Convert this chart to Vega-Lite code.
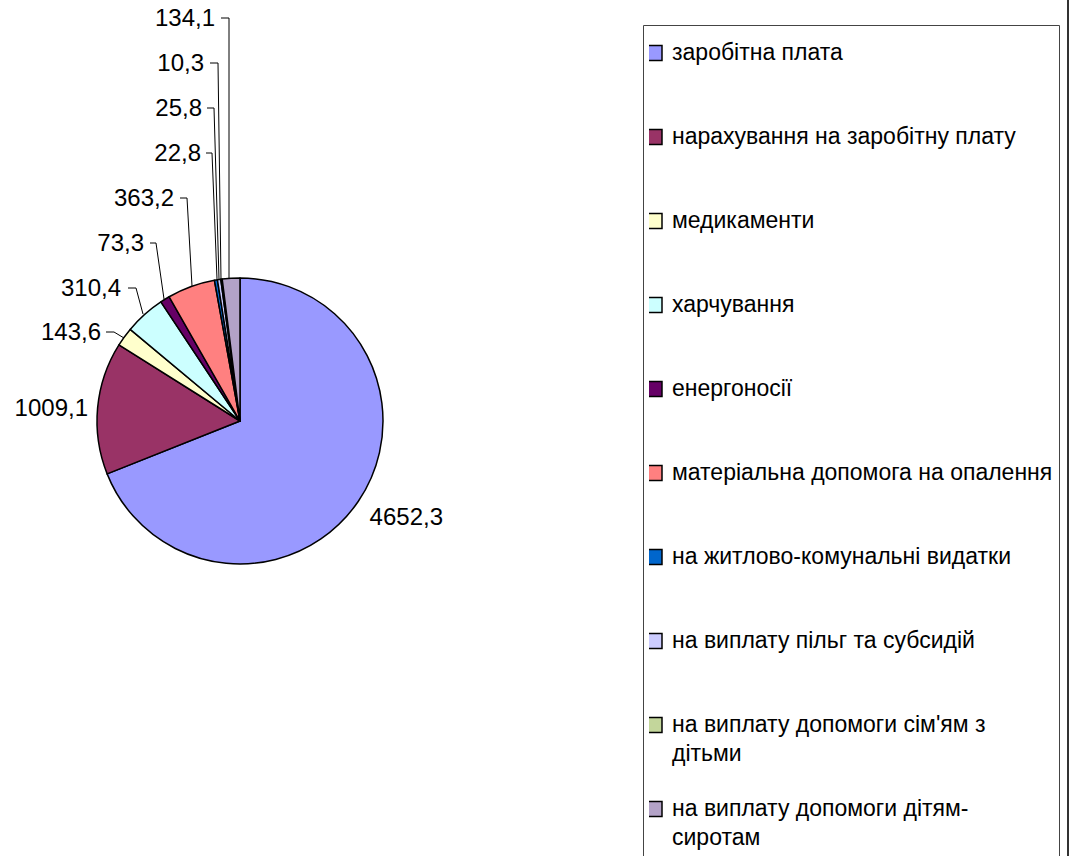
{
  "$schema": "https://vega.github.io/schema/vega-lite/v6.json",
  "width": 1073,
  "height": 856,
  "autosize": {"type": "none"},
  "padding": 0,
  "background": "#ffffff",
  "config": {
    "view": {"stroke": null},
    "locale": {"number": {"decimal": ",", "thousands": " ", "grouping": [3], "currency": ["", ""]}},
    "style": {"guide-label": {"lineHeight": 29}}
  },
  "datasets": {
    "slices": [
      {"cat": "заробітна плата", "value": 4652.3, "idx": 1, "lx": 203, "ly": -97},
      {"cat": "нарахування на заробітну плату", "value": 1009.1, "idx": 2, "lx": -152, "ly": 12},
      {"cat": "медикаменти", "value": 143.6, "idx": 3, "lx": -139, "ly": 88},
      {"cat": "харчування", "value": 310.4, "idx": 4, "lx": -119, "ly": 132},
      {"cat": "енергоносії", "value": 73.3, "idx": 5, "lx": -96, "ly": 177},
      {"cat": "матеріальна допомога на опалення", "value": 363.2, "idx": 6, "lx": -66, "ly": 222},
      {"cat": "на житлово-комунальні видатки", "value": 22.8, "idx": 7, "lx": -39, "ly": 267},
      {"cat": "на виплату пільг та субсидій", "value": 25.8, "idx": 8, "lx": -38, "ly": 312},
      {"cat": "на виплату допомоги сім'ям з дітьми", "value": 10.3, "idx": 9, "lx": -36, "ly": 357},
      {"cat": "на виплату допомоги дітям-сиротам", "value": 134.1, "idx": 10, "lx": -25, "ly": 402}
    ],
    "leaders": [
      {"lbl": "134,1", "p": 1, "x": -19, "y": 403}, {"lbl": "134,1", "p": 2, "x": -11, "y": 403}, {"lbl": "134,1", "p": 3, "x": -11, "y": 142},
      {"lbl": "10,3", "p": 1, "x": -30, "y": 358}, {"lbl": "10,3", "p": 2, "x": -22, "y": 358}, {"lbl": "10,3", "p": 3, "x": -19, "y": 142},
      {"lbl": "25,8", "p": 1, "x": -33, "y": 313}, {"lbl": "25,8", "p": 2, "x": -26, "y": 313}, {"lbl": "25,8", "p": 3, "x": -21, "y": 142},
      {"lbl": "22,8", "p": 1, "x": -34, "y": 268}, {"lbl": "22,8", "p": 2, "x": -28, "y": 268}, {"lbl": "22,8", "p": 3, "x": -23, "y": 142},
      {"lbl": "363,2", "p": 1, "x": -60, "y": 223}, {"lbl": "363,2", "p": 2, "x": -53, "y": 223}, {"lbl": "363,2", "p": 3, "x": -48, "y": 135},
      {"lbl": "73,3", "p": 1, "x": -90, "y": 178}, {"lbl": "73,3", "p": 2, "x": -84, "y": 178}, {"lbl": "73,3", "p": 3, "x": -76, "y": 122},
      {"lbl": "310,4", "p": 1, "x": -112, "y": 133}, {"lbl": "310,4", "p": 2, "x": -104, "y": 133}, {"lbl": "310,4", "p": 3, "x": -97, "y": 107},
      {"lbl": "143,6", "p": 1, "x": -134, "y": 89}, {"lbl": "143,6", "p": 2, "x": -126, "y": 89}, {"lbl": "143,6", "p": 3, "x": -116, "y": 83}
    ]
  },
  "layer": [
    {
      "data": {"name": "slices"},
      "mark": {"type": "arc", "radius": 143, "stroke": "#000000", "strokeWidth": 1.5, "strokeJoin": "round"},
      "encoding": {
        "x": {"datum": 0, "type": "quantitative", "scale": {"domain": [-240, 833], "nice": false, "zero": false}, "axis": null},
        "y": {"datum": 0, "type": "quantitative", "scale": {"domain": [-435, 421], "nice": false, "zero": false}, "axis": null},
        "theta": {"field": "value", "type": "quantitative", "stack": true},
        "order": {"field": "idx", "type": "quantitative", "sort": "ascending"},
        "color": {
          "field": "cat",
          "type": "nominal",
          "sort": null,
          "scale": {
            "domain": ["заробітна плата", "нарахування на заробітну плату", "медикаменти", "харчування", "енергоносії", "матеріальна допомога на опалення", "на житлово-комунальні видатки", "на виплату пільг та субсидій", "на виплату допомоги сім'ям з дітьми", "на виплату допомоги дітям-сиротам"],
            "range": ["#9999FF", "#993366", "#FFFFCC", "#CCFFFF", "#660066", "#FF8080", "#0066CC", "#CCCCFF", "#C3D69B", "#B3A2C7"]
          },
          "legend": {
            "orient": "none",
            "legendX": 643,
            "legendY": 25,
            "title": null,
            "padding": 6,
            "strokeColor": "#444444",
            "symbolType": "square",
            "symbolSize": 225,
            "symbolOffset": -6,
            "symbolStrokeColor": "#000000",
            "symbolStrokeWidth": 1.5,
            "symbolOpacity": 1,
            "labelFont": "Liberation Sans",
            "labelFontSize": 23,
            "labelColor": "#000000",
            "labelLimit": 600,
            "labelOffset": 6,
            "clipHeight": 44,
            "rowPadding": 21,
            "labelExpr": "datum.label === \"на виплату допомоги сім'ям з дітьми\" ? [\"на виплату допомоги сім'ям з\", \"дітьми\"] : datum.label === \"на виплату допомоги дітям-сиротам\" ? [\"на виплату допомоги дітям-\", \"сиротам\"] : [datum.label, \"\"]"
          }
        }
      }
    },
    {
      "data": {"name": "leaders"},
      "mark": {"type": "line", "stroke": "#000000", "strokeWidth": 1},
      "encoding": {
        "x": {"field": "x", "type": "quantitative"},
        "y": {"field": "y", "type": "quantitative"},
        "detail": {"field": "lbl"},
        "order": {"field": "p", "type": "quantitative"}
      }
    },
    {
      "data": {"name": "slices"},
      "mark": {"type": "text", "align": "right", "baseline": "middle", "font": "Liberation Sans", "fontSize": 24, "color": "#000000"},
      "encoding": {
        "x": {"field": "lx", "type": "quantitative"},
        "y": {"field": "ly", "type": "quantitative"},
        "text": {"field": "value", "type": "quantitative", "format": ".1f"}
      }
    },
    {
      "data": {"values": [{"edge": 828}]},
      "mark": {"type": "rule", "stroke": "#333333", "strokeWidth": 2},
      "encoding": {
        "x": {"field": "edge", "type": "quantitative"}
      }
    }
  ]
}
